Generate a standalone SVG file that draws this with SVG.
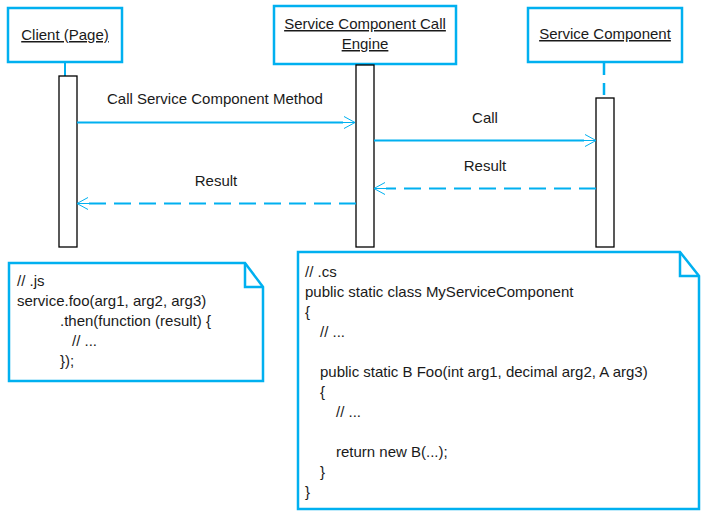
<svg xmlns="http://www.w3.org/2000/svg" width="705" height="517" viewBox="0 0 705 517">
<style>
text{font-family:"Liberation Sans",Arial,sans-serif;font-size:15px;fill:#1a1a1a}
.hdr{fill:#fff;stroke:#00B0F0;stroke-width:2.5}
.hdrt{text-anchor:middle;text-decoration:underline}
.act{fill:#fff;stroke:#000;stroke-width:1.3}
.msg{fill:none;stroke:#00B0F0;stroke-width:2.2}
.dash{stroke-dasharray:17 8}
.lbl{text-anchor:middle}
.note{fill:#fff;stroke:#00B0F0;stroke-width:2.5;stroke-linejoin:miter}
</style>
<defs>
<marker id="open" markerUnits="userSpaceOnUse" markerWidth="20" markerHeight="20" viewBox="-14 -8 20 16" refX="0" refY="0" orient="auto" overflow="visible">
<path d="M1,-6 L12,0 L1,6 M-1,0 L12,0" fill="none" stroke="#00B0F0" stroke-width="1"/>
</marker>
</defs>
<rect width="705" height="517" fill="#fff"/>

<g id="client">
<rect class="hdr" x="8" y="8" width="114" height="54"/>
<text class="hdrt" x="65" y="40">Client (Page)</text>
<line x1="65" y1="62" x2="65" y2="76" stroke="#00B0F0" stroke-width="2"/>
<rect class="act" x="59" y="76" width="18" height="171"/>
</g>

<g id="engine">
<rect class="hdr" x="274" y="6" width="182" height="58"/>
<text class="hdrt" x="365" y="29">Service Component Call</text>
<text class="hdrt" x="365" y="49">Engine</text>
<rect class="act" x="356" y="65" width="18" height="182"/>
</g>

<g id="component">
<rect class="hdr" x="528" y="8" width="154" height="54"/>
<text class="hdrt" x="605" y="39">Service Component</text>
<line x1="604" y1="63" x2="604" y2="98" stroke="#00B0F0" stroke-width="2.5" stroke-dasharray="12 8"/>
<rect class="act" x="596" y="98" width="18" height="149"/>
</g>

<g id="connectors">
<line class="msg" x1="77" y1="122.5" x2="343" y2="122.5" marker-end="url(#open)"/>
<text class="lbl" x="215" y="104">Call Service Component Method</text>
<line class="msg" x1="374" y1="140.5" x2="584" y2="140.5" marker-end="url(#open)"/>
<text class="lbl" x="485" y="123">Call</text>
<line class="msg dash" x1="596" y1="188.5" x2="386" y2="188.5" marker-end="url(#open)"/>
<text class="lbl" x="485" y="171">Result</text>
<line class="msg dash" x1="356" y1="203.5" x2="89" y2="203.5" marker-end="url(#open)"/>
<text class="lbl" x="216" y="186">Result</text>
</g>

<g id="note-js">
<path class="note" d="M9,263 L245,263 L263,287 L263,381 L9,381 Z"/>
<path d="M245,263 L245,287 L263,287" fill="none" stroke="#00B0F0" stroke-width="2.5"/>
<text x="17" y="286">// .js</text>
<text x="17" y="306">service.foo(arg1, arg2, arg3)</text>
<text x="60" y="326">.then(function (result) {</text>
<text x="72" y="346">// ...</text>
<text x="60" y="366">});</text>
</g>

<g id="note-cs">
<path class="note" d="M298,252 L680,252 L699,276 L699,509 L298,509 Z"/>
<path d="M680,252 L680,276 L699,276" fill="none" stroke="#00B0F0" stroke-width="2.5"/>
<text x="305" y="277">// .cs</text>
<text x="305" y="297">public static class MyServiceComponent</text>
<text x="305" y="317">{</text>
<text x="320" y="337">// ...</text>
<text x="320" y="377">public static B Foo(int arg1, decimal arg2, A arg3)</text>
<text x="320" y="397">{</text>
<text x="336" y="417">// ...</text>
<text x="336" y="457">return new B(...);</text>
<text x="320" y="477">}</text>
<text x="305" y="497">}</text>
</g>
</svg>
